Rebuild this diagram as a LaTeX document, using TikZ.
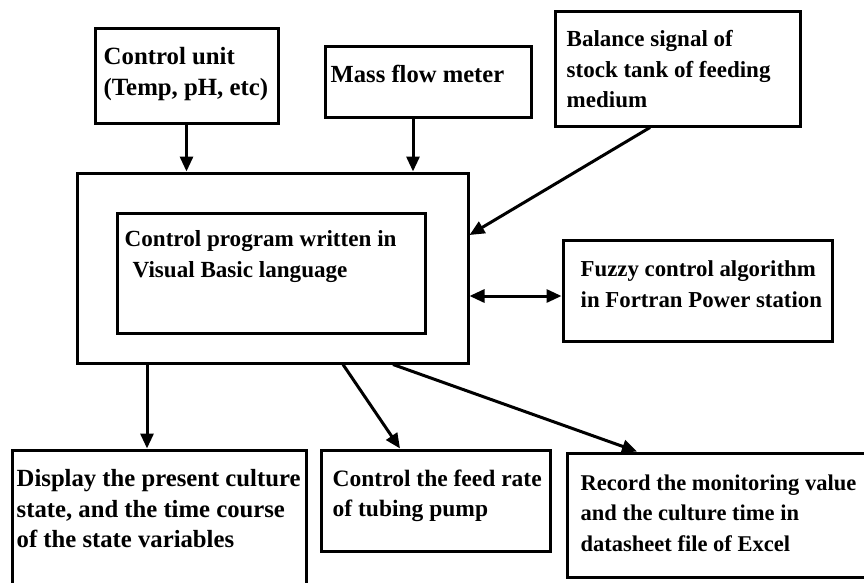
\documentclass[tikz,border=0pt]{standalone}
\usepackage{fontspec}
\setmainfont{Liberation Serif}
\usetikzlibrary{arrows.meta,positioning}

\begin{document}
\begin{tikzpicture}[x=1pt,y=-1pt,
   box/.style={draw,line width=3pt,inner sep=0pt},
   txt/.style={anchor=north west,inner sep=0pt,align=left,
     font=\bfseries\fontsize{#1}{30.5}\selectfont},
   txt/.default=23.5,
   link/.style={line width=3pt,-{Triangle[length=15pt,width=13pt]}}]
   \useasboundingbox (0,0) rectangle (864,582);
   \clip (0,0) rectangle (864,582);
   % sources
   \node[box,minimum width=183,minimum height=95] (cu) at (186.5,75.5) {};
   \node[box,minimum width=206,minimum height=71] (mf) at (428,81.5) {};
   \node[box,minimum width=245,minimum height=115] (bal) at (677.5,68.5) {};
   % program
   \node[box,minimum width=391,minimum height=190] (main) at (272.5,268) {};
   \node[box,minimum width=308,minimum height=120] (prog) at (271,273) {};
   \node[box,minimum width=269,minimum height=101] (fz) at (697.5,290.5) {};
   % outputs
   \node[box,minimum width=294,minimum height=150] (disp) at (159,525) {};
   \node[box,minimum width=229,minimum height=101] (feed) at (435.5,500.5) {};
   \node[box,minimum width=313,minimum height=124] (rec) at (723.5,515) {};
   % texts
   \node[txt=24.8] (cutxt) at ([shift={(10,21)}]cu.north west) {Control unit\\(Temp, pH, etc)};
   \node[txt=24.6] (mftxt) at ([shift={(7,20)}]mf.north west) {Mass flow meter};
   \node[txt=23] (baltxt) at ([shift={(13,21)}]bal.north west) {Balance signal of\\stock tank of feeding\\medium};
   \node[txt=23.1] (progtxt) at ([shift={(9,19)}]prog.north west) {Control program written in\\\hspace{8pt}Visual Basic language};
   \node[txt=22.8] (fztxt) at ([shift={(19,22)}]fz.north west) {Fuzzy control algorithm\\in Fortran Power station};
   \node[txt=24.7] (disptxt) at ([shift={(6,21)}]disp.north west) {Display the present culture\\state, and the time course\\of the state variables};
   \node[txt] (feedtxt) at ([shift={(13,21)}]feed.north west) {Control the feed rate\\of tubing pump};
   \node[txt=22.5] (rectxt) at ([shift={(15,23)}]rec.north west) {Record the monitoring value\\and the culture time in\\datasheet file of Excel};
   \coordinate (fzin) at ([yshift=-5.5pt]fz.west);
   \path[link]
   (cu.south) edge (cu.south |- main.north)
   ([xshift=-15pt]mf.south) edge ([xshift=-15pt]mf.south |- main.north)
   ([xshift=-27.5pt]bal.south) edge ([yshift=33pt]main.east)
   ([xshift=-125.5pt]main.south) edge ([xshift=-12pt]disp.north)
   ([xshift=70.5pt]main.south) edge ([xshift=-35.5pt]feed.north)
   ([xshift=120.5pt]main.south) edge ([xshift=-86.5pt]rec.north);
   \draw[link,{Triangle[length=15pt,width=13pt]}-{Triangle[length=15pt,width=13pt]}]
   (main.east |- fzin) -- (fzin);
\end{tikzpicture}
\end{document}
